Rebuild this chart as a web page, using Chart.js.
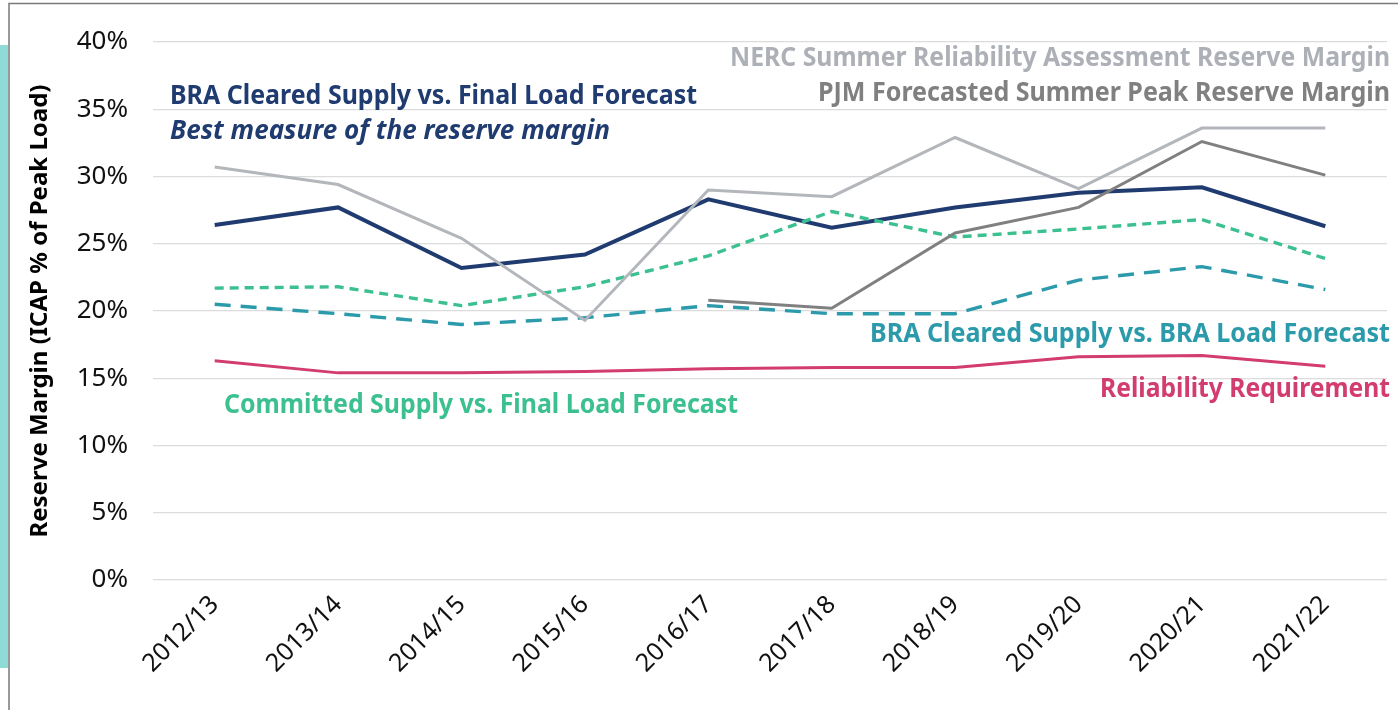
<!DOCTYPE html>
<html>
<head>
<meta charset="utf-8">
<script src="https://cdn.jsdelivr.net/npm/chart.js@4.4.1/dist/chart.umd.min.js"></script>
<style>
  html, body { margin: 0; padding: 0; background: #fff; }
</style>
</head>
<body>
<canvas id="rmChart" width="1398" height="710"></canvas>
<script>
const years = ['2012/13', '2013/14', '2014/15', '2015/16', '2016/17',
               '2017/18', '2018/19', '2019/20', '2020/21', '2021/22'];

// reserve margins, % of peak load
const nerc        = [30.7, 29.4, 25.4, 19.3, 29.0, 28.5, 32.9, 29.1, 33.6, 33.6];
const pjm         = [null, null, null, null, 20.8, 20.2, 25.8, 27.7, 32.6, 30.1];
const braFinal    = [26.4, 27.7, 23.2, 24.2, 28.3, 26.2, 27.7, 28.8, 29.2, 26.3];
const committed   = [21.7, 21.8, 20.4, 21.8, 24.1, 27.4, 25.5, 26.1, 26.8, 23.9];
const braLoad     = [20.5, 19.8, 19.0, 19.5, 20.4, 19.8, 19.8, 22.3, 23.3, 21.6];
const reliability = [16.3, 15.4, 15.4, 15.5, 15.7, 15.8, 15.8, 16.6, 16.7, 15.9];

const yMin = 0, yMax = 40, yStep = 5;

const NAVY = '#1f3b6f', LGREY = '#b3b6bb', DGREY = '#808080',
      GREEN = '#3cc090', TEAL = '#2b9aab', PINK = '#d23c6e';

// line labels drawn on the chart instead of a legend
const notes = [
  { text: 'BRA Cleared Supply vs. Final Load Forecast', color: NAVY, x: 170, y: 104, w: 527 },
  { text: 'Best measure of the reserve margin', color: NAVY, x: 170, y: 139, w: 440, italic: true },
  { text: 'NERC Summer Reliability Assessment Reserve Margin', color: '#adb1b7', x: 730, y: 66, w: 660 },
  { text: 'PJM Forecasted Summer Peak Reserve Margin', color: DGREY, x: 818, y: 101, w: 572 },
  { text: 'BRA Cleared Supply vs. BRA Load Forecast', color: TEAL, x: 870, y: 342, w: 520 },
  { text: 'Reliability Requirement', color: PINK, x: 1100, y: 397, w: 290 },
  { text: 'Committed Supply vs. Final Load Forecast', color: GREEN, x: 224, y: 413, w: 514 },
];

const frame = {
  id: 'frame',
  beforeDraw(chart) {
    const ctx = chart.ctx;
    ctx.save();
    ctx.fillStyle = '#fff';
    ctx.fillRect(0, 0, chart.width, chart.height);
    ctx.fillStyle = '#8fdbd6';
    ctx.fillRect(0, 45, 8, 623);
    ctx.strokeStyle = '#7a7a7a';
    ctx.lineWidth = 1.5;
    ctx.beginPath();
    ctx.moveTo(9, chart.height);
    ctx.lineTo(9, 3.5);
    ctx.lineTo(chart.width, 3.5);
    ctx.stroke();
    ctx.restore();
  },
  afterDraw(chart) {
    const ctx = chart.ctx;
    notes.forEach(n => {
      ctx.save();
      ctx.font = (n.italic ? 'italic ' : '') + 'bold 26px "Noto Sans"';
      ctx.fillStyle = n.color;
      ctx.textBaseline = 'alphabetic';
      const mw = ctx.measureText(n.text).width;
      ctx.translate(n.x, n.y);
      ctx.scale(n.w / mw, 1);
      ctx.fillText(n.text, 0, 0);
      ctx.restore();
    });
  }
};

function line(label, data, color, width, dash) {
  return {
    label: label,
    data: data,
    borderColor: color,
    backgroundColor: color,
    borderWidth: width,
    borderDash: dash || [],
    pointRadius: 0,
    tension: 0,
    fill: false,
    spanGaps: false,
  };
}

const data = {
  labels: years,
  datasets: [
    line('NERC Summer Reliability Assessment Reserve Margin', nerc, LGREY, 3),
    line('PJM Forecasted Summer Peak Reserve Margin', pjm, DGREY, 3),
    line('Reliability Requirement', reliability, PINK, 3),
    line('BRA Cleared Supply vs. BRA Load Forecast', braLoad, TEAL, 3.4, [16, 10]),
    line('Committed Supply vs. Final Load Forecast', committed, GREEN, 3.4, [9, 6]),
    line('BRA Cleared Supply vs. Final Load Forecast', braFinal, NAVY, 4),
  ]
};

const config = {
  type: 'line',
  data: data,
  plugins: [frame],
  options: {
    responsive: false,
    animation: false,
    devicePixelRatio: 1,
    layout: { padding: { left: 26, top: 42, right: 11, bottom: 0 } },
    plugins: {
      legend: { display: false },
      tooltip: { enabled: false },
    },
    scales: {
      x: {
        offset: true,
        grid: { display: false },
        border: { display: false },
        ticks: {
          color: '#111',
          font: { family: '"Noto Sans"', size: 25 },
          minRotation: 45,
          maxRotation: 45,
          padding: 2,
        },
        afterFit(scale) { scale.height = 130; }
      },
      y: {
        min: yMin,
        max: yMax,
        border: { display: false },
        grid: { color: '#dcdcdc', lineWidth: 1.2, drawTicks: false },
        ticks: {
          stepSize: yStep,
          padding: 25,
          color: '#111',
          font: { family: '"Noto Sans"', size: 26 },
          callback: v => v + '%',
        },
        title: {
          display: true,
          text: 'Reserve Margin (ICAP % of Peak Load)',
          color: '#000',
          font: { family: '"Noto Sans"', size: 24, weight: 'bold' },
          padding: 0,
        },
        afterFit(scale) { scale.width = 127; }
      }
    }
  }
};

const rmChart = new Chart(document.getElementById('rmChart'), config);
</script>
</body>
</html>
